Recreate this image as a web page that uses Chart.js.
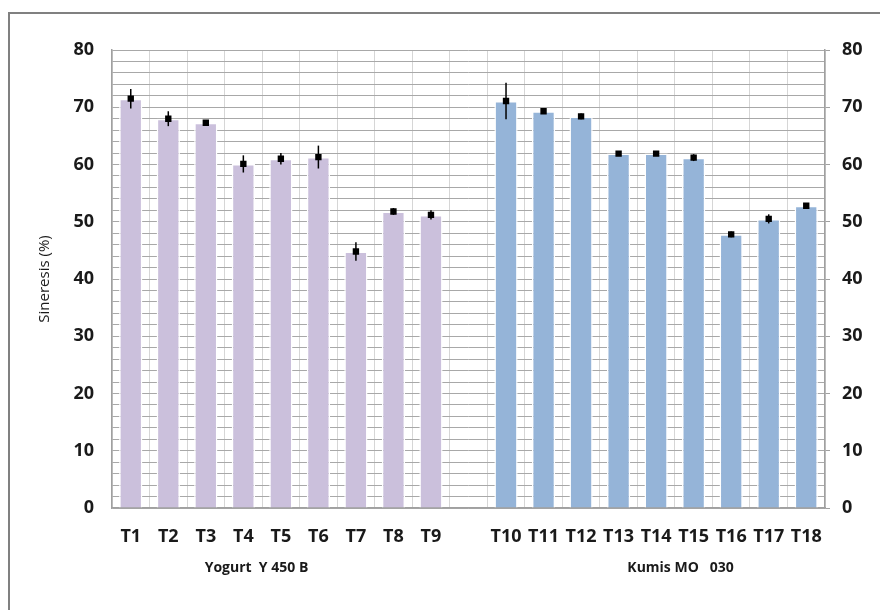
<!DOCTYPE html>
<html>
<head>
<meta charset="utf-8">
<script src="https://cdn.jsdelivr.net/npm/chart.js@4"></script>
<style>
  html, body { margin: 0; padding: 0; background: #fff; }
  #wrap { position: relative; width: 880px; height: 610px; overflow: hidden; }
  #frame { position: absolute; left: 8px; top: 12px; width: 900px; height: 700px;
           border-left: 2px solid #808080; border-top: 2px solid #808080; }
  #chart { position: absolute; left: 0; top: 0; }
</style>
</head>
<body>
<div id="wrap">
  <div id="frame"></div>
  <canvas id="chart" width="880" height="610"></canvas>
</div>
<script>
// -- dados --
const yogurtLabels = ['T1', 'T2', 'T3', 'T4', 'T5', 'T6', 'T7', 'T8', 'T9'];
const kumisLabels = ['T10', 'T11', 'T12', 'T13', 'T14', 'T15', 'T16', 'T17', 'T18'];
const yogurtValues = [71.5, 68.0, 67.3, 60.1, 61.0, 61.3, 44.8, 51.8, 51.2];
const kumisValues = [71.1, 69.3, 68.4, 61.9, 61.9, 61.2, 47.8, 50.5, 52.8];
const yogurtErrors = [1.7, 1.3, 0.4, 1.5, 1.0, 2.0, 1.6, 0.6, 0.8];
const kumisErrors = [3.2, 0.4, 0.5, 0.4, 0.4, 0.6, 0.5, 0.8, 0.4];
const groupNames = ['Yogurt  Y 450 B', 'Kumis MO   030'];
const groupCenters = [3.35, 14.65];   // posição em índice de categoria
const yTicks = [0, 10, 20, 30, 40, 50, 60, 70, 80];

// categoria vazia entre os dois grupos
const labels = [...yogurtLabels, '', ...kumisLabels];
const values = [...yogurtValues, null, ...kumisValues];
const errors = [...yogurtErrors, null, ...kumisErrors];
const barColors = [
  ...yogurtValues.map(() => '#cbc0dc'),
  'rgba(0,0,0,0)',
  ...kumisValues.map(() => '#95b4d8')
];

const FONT = '"Open Sans", "Liberation Sans", sans-serif';
const TEXT = '#1a1a1a';

// barras de erro + rótulos dos grupos
const extrasPlugin = {
  id: 'extras',
  afterDatasetsDraw(chart) {
    const ctx = chart.ctx;
    const x = chart.scales.x, y = chart.scales.y;
    ctx.save();
    ctx.strokeStyle = '#000';
    ctx.lineWidth = 1.5;
    values.forEach((v, i) => {
      if (v == null || errors[i] == null) return;
      const px = x.getPixelForValue(i);
      ctx.beginPath();
      ctx.moveTo(px, y.getPixelForValue(v + errors[i]));
      ctx.lineTo(px, y.getPixelForValue(v - errors[i]));
      ctx.stroke();
    });
    ctx.restore();
  },
  afterDraw(chart) {
    const ctx = chart.ctx;
    const x = chart.scales.x;
    ctx.save();
    ctx.fillStyle = TEXT;
    ctx.font = 'bold 14px ' + FONT;
    ctx.textAlign = 'center';
    ctx.textBaseline = 'middle';
    groupNames.forEach((name, i) => {
      ctx.fillText(name, x.getPixelForValue(groupCenters[i]), 568);
    });
    ctx.restore();
  }
};

const ctx = document.getElementById('chart').getContext('2d');
new Chart(ctx, {
  type: 'bar',
  data: {
    labels: labels,
    datasets: [
      {
        type: 'line',
        data: values,
        showLine: false,
        pointStyle: 'rect',
        pointRadius: 4.5,
        pointBackgroundColor: '#000',
        pointBorderColor: '#000',
        pointBorderWidth: 0,
        order: 0
      },
      {
        data: values,
        backgroundColor: barColors,
        borderColor: '#ffffff',
        borderWidth: 1.5,
        categoryPercentage: 1.0,
        barPercentage: 0.62,
        order: 1
      }
    ]
  },
  options: {
    responsive: false,
    animation: false,
    layout: { padding: { left: 34, top: 50, right: 0, bottom: 0 } },
    plugins: {
      legend: { display: false },
      tooltip: { enabled: false }
    },
    scales: {
      x: {
        grid: { offset: true, color: '#d6d6d6', lineWidth: 1, drawTicks: false },
        border: { color: '#a0a0a0', width: 1.5 },
        ticks: {
          color: TEXT, font: { family: FONT, size: 18, weight: 'bold' },
          padding: 18, maxRotation: 0, autoSkip: false
        },
        afterFit: s => { s.height = 102; }
      },
      y: {
        position: 'left',
        min: 0, max: 80,
        afterBuildTicks: s => { s.ticks = []; for (let v = 0; v <= 80; v += 2) s.ticks.push({ value: v }); },
        grid: { color: '#a8a8a8', lineWidth: 1, drawTicks: false },
        border: { color: '#a0a0a0', width: 1.5 },
        ticks: {
          autoSkip: false,
          color: TEXT, font: { family: FONT, size: 18, weight: 'bold' }, padding: 18,
          callback: v => yTicks.includes(v) ? String(v) : ''
        },
        title: {
          display: true, text: 'Sineresis (%)', color: TEXT,
          font: { family: FONT, size: 15 }, padding: { top: 2, bottom: 0 }
        },
        afterFit: s => { s.width = 78; }
      },
      y2: {
        position: 'right',
        min: 0, max: 80,
        afterBuildTicks: s => { s.ticks = yTicks.map(v => ({ value: v })); },
        grid: { drawOnChartArea: false, color: '#a0a0a0', tickLength: 5 },
        border: { color: '#a0a0a0', width: 1.5 },
        ticks: { autoSkip: false, color: TEXT, font: { family: FONT, size: 18, weight: 'bold' }, padding: 12 },
        afterFit: s => { s.width = 55; }
      }
    }
  },
  plugins: [extrasPlugin]
});
</script>
</body>
</html>
